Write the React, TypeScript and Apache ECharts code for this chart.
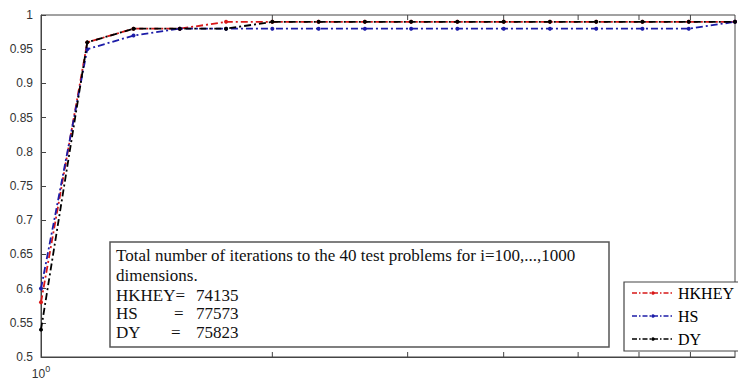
import React, { useEffect, useRef } from "react";
import * as echarts from "echarts";

// performance-profile abscissa (tau), log-spaced
const TAU = [1, 1.1487, 1.3195, 1.5157, 1.7411, 2, 2.2974, 2.639, 3.0314, 3.4822, 4, 4.5948, 5.278, 6.0629, 6.9644, 8];
const HKHEY = [0.58, 0.96, 0.98, 0.98, 0.99, 0.99, 0.99, 0.99, 0.99, 0.99, 0.99, 0.99, 0.99, 0.99, 0.99, 0.99];
const HS = [0.6, 0.95, 0.97, 0.98, 0.98, 0.98, 0.98, 0.98, 0.98, 0.98, 0.98, 0.98, 0.98, 0.98, 0.98, 0.99];
const DY = [0.54, 0.96, 0.98, 0.98, 0.98, 0.99, 0.99, 0.99, 0.99, 0.99, 0.99, 0.99, 0.99, 0.99, 0.99, 0.99];
const SERIES_NAMES = ["HKHEY", "HS", "DY"];
const SERIES_COLORS = ["#d81818", "#1c1ca8", "#000000"];
const MINOR_X_TICKS = [2, 3, 4, 5, 6, 7];
const NOTE_TITLE = "Total number of iterations to the 40 test problems for i=100,...,1000";
const NOTE_SUB = "dimensions.";
const NOTE_NAMES = ["HKHEY=", "HS", "DY"];
const NOTE_VALUES = ["74135", "77573", "75823"];

export default function App() {
  const ref = useRef<HTMLDivElement>(null);
  useEffect(() => {
    if (!ref.current) return;
    const chart = echarts.init(ref.current, undefined, { renderer: "svg" });
    const allData = [HKHEY, HS, DY];
    const serif = "Liberation Serif";
    const sans = "Liberation Sans";
    const lineSeries = SERIES_NAMES.map((name, k) => ({
      name,
      type: "line",
      data: TAU.map((t, i) => [t, allData[k][i]]),
      symbol: "circle",
      symbolSize: 4,
      showSymbol: true,
      clip: false,
      itemStyle: { color: SERIES_COLORS[k] },
      lineStyle: { color: SERIES_COLORS[k], width: 1.8, type: [7, 3, 2, 3] },
      z: 3 + k,
    }));
    const noteX = 116;
    const rowY = [255, 275, 295, 313, 332];
    const noteFont = { fontFamily: serif, fontSize: 17, fill: "#111", verticalAlign: "middle" };
    const graphics: any[] = [
      {
        type: "rect",
        shape: { x: 110, y: 242, width: 499, height: 105 },
        style: { fill: "#fff", stroke: "#555", lineWidth: 1.5 },
        z: 10,
      },
      { type: "text", x: noteX, y: rowY[0], style: { ...noteFont, text: NOTE_TITLE }, z: 11 },
      { type: "text", x: noteX, y: rowY[1], style: { ...noteFont, text: NOTE_SUB }, z: 11 },
    ];
    const eqX = [null, 174, 171];
    NOTE_NAMES.forEach((n, i) => {
      graphics.push({ type: "text", x: noteX, y: rowY[2 + i], style: { ...noteFont, text: n }, z: 11 });
      if (eqX[i] !== null) {
        graphics.push({ type: "text", x: eqX[i], y: rowY[2 + i], style: { ...noteFont, text: "=" }, z: 11 });
      }
      graphics.push({ type: "text", x: 196, y: rowY[2 + i], style: { ...noteFont, text: NOTE_VALUES[i] }, z: 11 });
    });

    // legend box (drawn as graphic so that it uses the serif face)
    const lgLeft = 624;
    const lgTop = 282;
    graphics.push({
      type: "rect",
      shape: { x: lgLeft, y: lgTop, width: 130, height: 69 },
      style: { fill: "#fff", stroke: "#444", lineWidth: 1.2 },
      z: 20,
    });
    SERIES_NAMES.forEach((name, k) => {
      const cy = lgTop + 11 + k * 23;
      graphics.push({
        type: "line",
        shape: { x1: lgLeft + 8, y1: cy, x2: lgLeft + 50, y2: cy },
        style: { stroke: SERIES_COLORS[k], lineWidth: 1.3, lineDash: [5, 2, 1.5, 2] },
        z: 21,
      });
      graphics.push({
        type: "circle",
        shape: { cx: lgLeft + 29, cy, r: 1.8 },
        style: { fill: SERIES_COLORS[k] },
        z: 22,
      });
      graphics.push({
        type: "text",
        x: lgLeft + 54,
        y: cy,
        style: { text: name, fontFamily: serif, fontSize: 16, fill: "#000", verticalAlign: "middle" },
        z: 22,
      });
    });

    chart.setOption({
      animation: false,
      backgroundColor: "#ffffff",
      grid: {
        left: 41,
        right: -8,
        top: 15,
        bottom: 26,
        show: true,
        borderColor: "#444",
        borderWidth: 1,
        backgroundColor: "#fff",
      },
      xAxis: {
        type: "log",
        logBase: 10,
        min: 1,
        max: 8,
        axisLine: { show: true, lineStyle: { color: "#444", width: 1 } },
        axisTick: { show: false },
        splitLine: { show: false },
        axisLabel: {
          margin: 7,
          fontFamily: sans,
          formatter: (v: number) => (Math.abs(v - 1) < 1e-9 ? "{b|10}{s|0}" : ""),
          rich: {
            b: { fontFamily: sans, fontSize: 12, color: "#333", lineHeight: 16, verticalAlign: "bottom" },
            s: { fontFamily: sans, fontSize: 9, color: "#333", lineHeight: 9, verticalAlign: "top" },
          },
        },
      },
      yAxis: {
        type: "value",
        min: 0.5,
        max: 1,
        interval: 0.05,
        axisLine: { show: true, lineStyle: { color: "#444", width: 1 } },
        axisTick: { show: true, inside: true, length: 5, lineStyle: { color: "#444" } },
        splitLine: { show: false },
        axisLabel: {
          margin: 8,
          fontFamily: sans,
          fontSize: 12,
          color: "#333",
        },
      },
      series: [
        ...lineSeries,
        {
          type: "custom",
          name: "minorTicks",
          silent: true,
          data: MINOR_X_TICKS.map((v) => [v, 0.5]),
          renderItem: (params: any, api: any) => {
            const v = api.value(0);
            const b = api.coord([v, 0.5]);
            const t = api.coord([v, 1]);
            return {
              type: "group",
              children: [
                { type: "line", shape: { x1: b[0], y1: b[1], x2: b[0], y2: b[1] - 5 }, style: { stroke: "#444", lineWidth: 1 } },
                { type: "line", shape: { x1: t[0], y1: t[1], x2: t[0], y2: t[1] + 5 }, style: { stroke: "#444", lineWidth: 1 } },
              ],
            };
          },
          z: 2,
        },
      ],
      graphic: graphics,
    });
    return () => chart.dispose();
  }, []);
  return (
    <div
      ref={ref}
      style={{ position: "fixed", left: 0, top: 0, width: 738, height: 383, background: "#fff" }}
    />
  );
}
